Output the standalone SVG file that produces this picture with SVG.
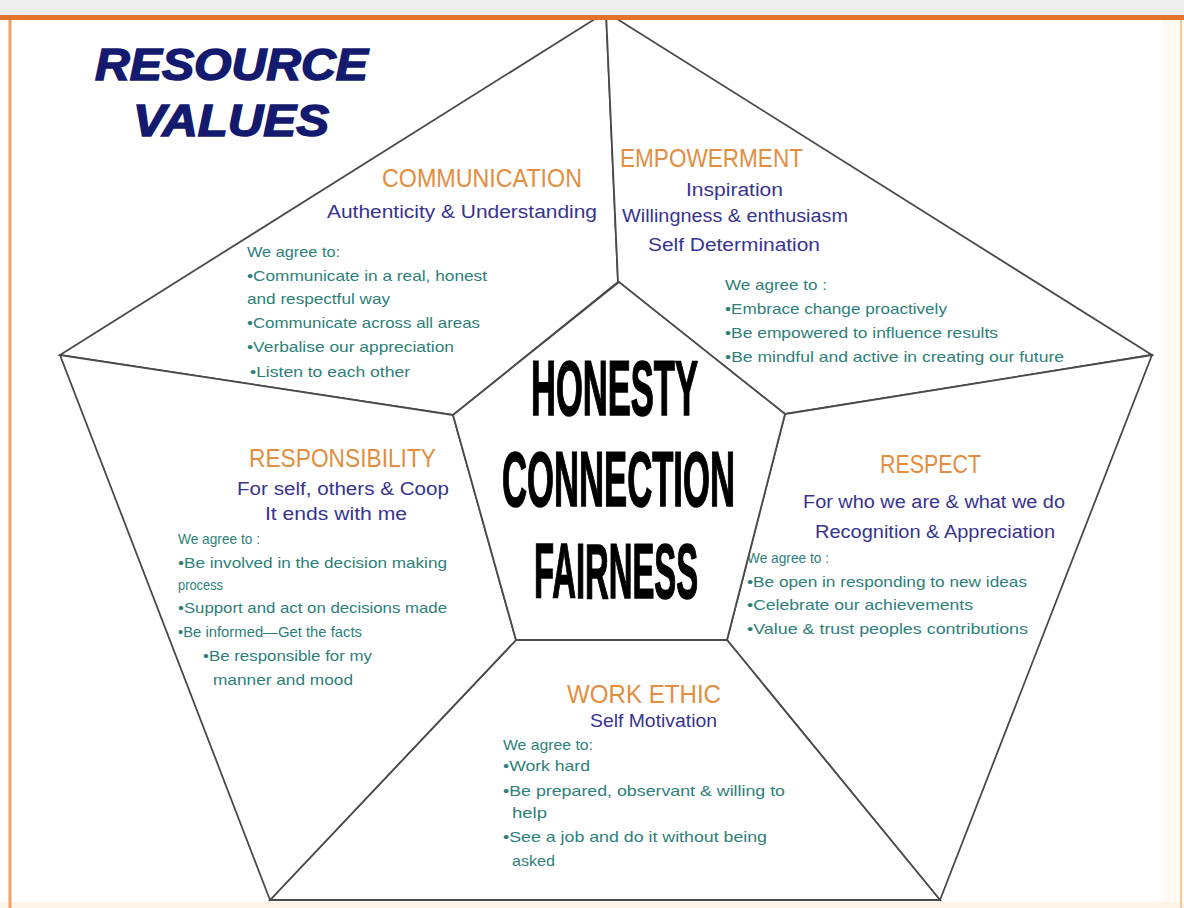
<svg xmlns="http://www.w3.org/2000/svg" width="1184" height="908" viewBox="0 0 1184 908">
<style>
.sec{fill:#ffffff;stroke:#4a4a4a;stroke-width:1.8;stroke-linejoin:miter}
.hd{font-family:"Liberation Sans",Arial,sans-serif;font-size:25px;fill:#e38d40}
.sub{font-family:"Liberation Sans",Arial,sans-serif;font-size:18px;fill:#37338f}
.bd{font-family:"Liberation Sans",Arial,sans-serif;font-size:15px;fill:#2d8078}
.ctr{font-family:"Liberation Sans",Arial,sans-serif;font-size:78px;font-weight:bold;fill:#000;stroke:#000;stroke-width:1.6}
.ttl{font-family:"Liberation Sans",Arial,sans-serif;font-size:44px;font-weight:bold;font-style:italic;fill:#141a6e;stroke:#141a6e;stroke-width:1.5}
</style>
<rect x="0" y="0" width="1184" height="908" fill="#ffffff"/>
<rect x="1162" y="0" width="22" height="908" fill="#fffaf2"/>
<rect x="0" y="902" width="1184" height="6" fill="#fdf4e8"/>

<g id="node-communication">
<polygon class="sec" points="60,355 606,12 618,282 453,415"/>
<text class="hd" x="382" y="187" textLength="200" lengthAdjust="spacingAndGlyphs">COMMUNICATION</text>
<text class="sub" x="327" y="218" textLength="270" lengthAdjust="spacingAndGlyphs">Authenticity &amp; Understanding</text>
<text class="bd" x="247" y="257" textLength="93" lengthAdjust="spacingAndGlyphs">We agree to:</text>
<text class="bd" x="247" y="281" textLength="240" lengthAdjust="spacingAndGlyphs">•Communicate in a real, honest</text>
<text class="bd" x="247" y="304" textLength="143" lengthAdjust="spacingAndGlyphs">and respectful way</text>
<text class="bd" x="247" y="328" textLength="233" lengthAdjust="spacingAndGlyphs">•Communicate across all areas</text>
<text class="bd" x="247" y="352" textLength="207" lengthAdjust="spacingAndGlyphs">•Verbalise our appreciation</text>
<text class="bd" x="250" y="377" textLength="160" lengthAdjust="spacingAndGlyphs">•Listen to each other</text>
</g>

<g id="node-empowerment">
<polygon class="sec" points="606,12 1152,355 785,414 618,282"/>
<text class="hd" x="620" y="167" textLength="183" lengthAdjust="spacingAndGlyphs">EMPOWERMENT</text>
<text class="sub" x="686" y="196" textLength="97" lengthAdjust="spacingAndGlyphs">Inspiration</text>
<text class="sub" x="622" y="222" textLength="226" lengthAdjust="spacingAndGlyphs">Willingness &amp; enthusiasm</text>
<text class="sub" x="648" y="251" textLength="172" lengthAdjust="spacingAndGlyphs">Self Determination</text>
<text class="bd" x="725" y="290" textLength="102" lengthAdjust="spacingAndGlyphs">We agree to :</text>
<text class="bd" x="725" y="314" textLength="222" lengthAdjust="spacingAndGlyphs">•Embrace change proactively</text>
<text class="bd" x="725" y="338" textLength="273" lengthAdjust="spacingAndGlyphs">•Be empowered to influence results</text>
<text class="bd" x="725" y="362" textLength="339" lengthAdjust="spacingAndGlyphs">•Be mindful and active in creating our future</text>
</g>

<g id="node-respect">
<polygon class="sec" points="1152,355 940,900 727,640 785,414"/>
<text class="hd" x="880" y="473" textLength="101" lengthAdjust="spacingAndGlyphs">RESPECT</text>
<text class="sub" x="803" y="508" textLength="262" lengthAdjust="spacingAndGlyphs">For who we are &amp; what we do</text>
<text class="sub" x="815" y="538" textLength="240" lengthAdjust="spacingAndGlyphs">Recognition &amp; Appreciation</text>
<text class="bd" x="747" y="563" textLength="82" lengthAdjust="spacingAndGlyphs">We agree to :</text>
<text class="bd" x="747" y="587" textLength="280" lengthAdjust="spacingAndGlyphs">•Be open in responding to new ideas</text>
<text class="bd" x="747" y="610" textLength="226" lengthAdjust="spacingAndGlyphs">•Celebrate our achievements</text>
<text class="bd" x="747" y="634" textLength="281" lengthAdjust="spacingAndGlyphs">•Value &amp; trust peoples contributions</text>
</g>

<g id="node-work-ethic">
<polygon class="sec" points="940,900 270,900 516,640 727,640"/>
<text class="hd" x="567" y="703" textLength="154" lengthAdjust="spacingAndGlyphs">WORK ETHIC</text>
<text class="sub" x="590" y="727" textLength="127" lengthAdjust="spacingAndGlyphs">Self Motivation</text>
<text class="bd" x="503" y="750" textLength="90" lengthAdjust="spacingAndGlyphs">We agree to:</text>
<text class="bd" x="503" y="771" textLength="87" lengthAdjust="spacingAndGlyphs">•Work hard</text>
<text class="bd" x="503" y="796" textLength="282" lengthAdjust="spacingAndGlyphs">•Be prepared, observant &amp; willing to</text>
<text class="bd" x="512" y="818" textLength="35" lengthAdjust="spacingAndGlyphs">help</text>
<text class="bd" x="503" y="842" textLength="264" lengthAdjust="spacingAndGlyphs">•See a job and do it without being</text>
<text class="bd" x="512" y="866" textLength="43" lengthAdjust="spacingAndGlyphs">asked</text>
</g>

<g id="node-responsibility">
<polygon class="sec" points="270,900 60,355 453,415 516,640"/>
<text class="hd" x="249" y="467" textLength="187" lengthAdjust="spacingAndGlyphs">RESPONSIBILITY</text>
<text class="sub" x="237" y="495" textLength="212" lengthAdjust="spacingAndGlyphs">For self, others &amp; Coop</text>
<text class="sub" x="265" y="520" textLength="142" lengthAdjust="spacingAndGlyphs">It ends with me</text>
<text class="bd" x="178" y="544" textLength="82" lengthAdjust="spacingAndGlyphs">We agree to :</text>
<text class="bd" x="178" y="568" textLength="269" lengthAdjust="spacingAndGlyphs">•Be involved in the decision making</text>
<text class="bd" x="178" y="590" textLength="45" lengthAdjust="spacingAndGlyphs">process</text>
<text class="bd" x="178" y="613" textLength="269" lengthAdjust="spacingAndGlyphs">•Support and act on decisions made</text>
<text class="bd" x="178" y="637" textLength="184" lengthAdjust="spacingAndGlyphs">•Be informed—Get the facts</text>
<text class="bd" x="203" y="661" textLength="169" lengthAdjust="spacingAndGlyphs">•Be responsible for my</text>
<text class="bd" x="213" y="685" textLength="140" lengthAdjust="spacingAndGlyphs">manner and mood</text>
</g>

<g id="node-core">
<polygon class="sec" points="619,282 785,414 727,640 516,640 453,415"/>
<text class="ctr" x="531" y="415" textLength="167" lengthAdjust="spacingAndGlyphs">HONESTY</text>
<text class="ctr" x="502" y="506" textLength="233" lengthAdjust="spacingAndGlyphs">CONNECTION</text>
<text class="ctr" x="534" y="598" textLength="164" lengthAdjust="spacingAndGlyphs">FAIRNESS</text>
</g>

<g id="frame">
<rect x="0" y="0" width="1184" height="16" fill="#eeeeee"/>
<line x1="0" y1="17.5" x2="1184" y2="17.5" stroke="#e5742a" stroke-width="5"/>
<line x1="10" y1="20" x2="10" y2="908" stroke="#f0a060" stroke-width="3"/>
<line x1="1181" y1="20" x2="1181" y2="908" stroke="#f6c79a" stroke-width="2"/>
</g>

<g id="title">
<text class="ttl" x="95" y="80" textLength="273" lengthAdjust="spacingAndGlyphs">RESOURCE</text>
<text class="ttl" x="133" y="136" textLength="196" lengthAdjust="spacingAndGlyphs">VALUES</text>
</g>
</svg>
